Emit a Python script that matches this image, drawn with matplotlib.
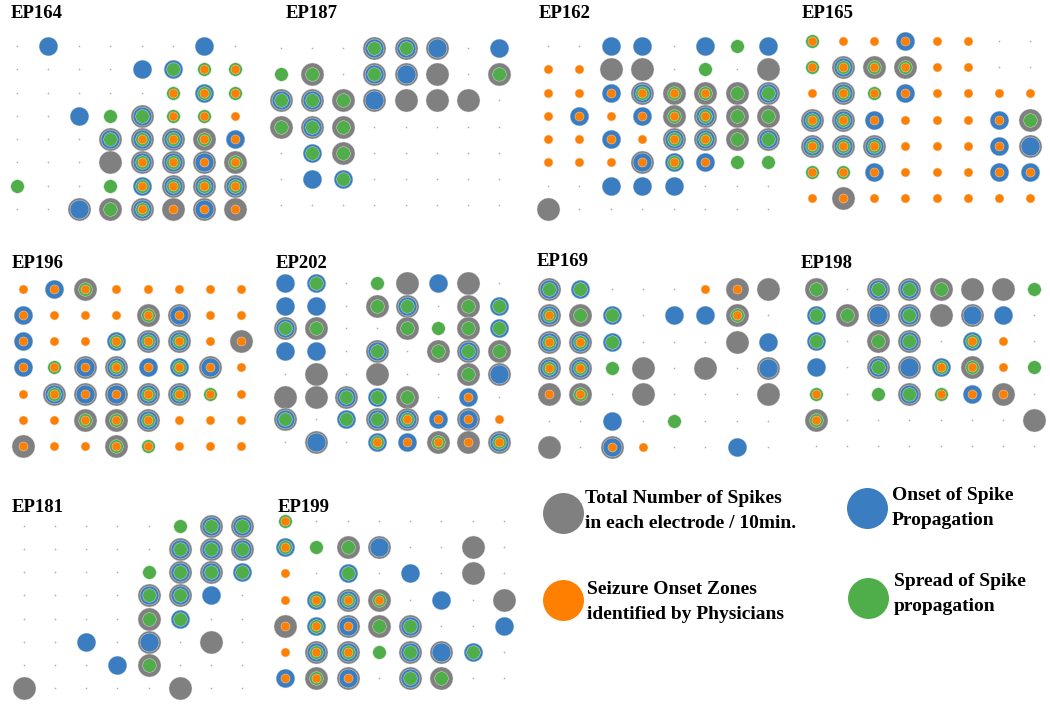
import matplotlib.pyplot as plt

W, H = 1050, 705

# electrode maps, one string per row, one token per electrode:
# g = total spikes, b = onset of spike propagation,
# s = spread of spike propagation, o = seizure onset zone, . = nothing
EP164 = [
    ". b . . . . b .",
    ". . . . b bs so so",
    ". . . . . so bso so",
    ". . b s gbs so so o",
    ". . . gbs gbso gbso gso bo",
    ". . . g gbso gbso gbo gso",
    "s . . s bso gbso gbso gbso",
    ". . gb gs gbso go gbo go",
]
EP187 = [
    ". . . gbs gbs gb . b",
    "s gs . gbs gb g . gs",
    "gbs gbs gs gb g g g .",
    "gs gbs gs . . . . .",
    ". bs gs . . . . .",
    ". b bs . . . . .",
    ". . . . . . . .",
]
EP162 = [
    ". . b b . b s b",
    "o o g g . s . g",
    "o o bo gbso gso gso gs gbs",
    "o bo o bo gso gbso gs gs",
    "o o bo o gbso gbso gs gbs",
    "o o o gbo bso bo s s",
    ". . b b b . . .",
    "g . . . . . . .",
]
EP165 = [
    "so o o bo o o . .",
    "so gbso gso gso o o . .",
    "o gbso so bo o o o o",
    "gbso gbso bo o o o bo gs",
    "gbso gbso gbso o o o bo gb",
    "so so bo o o o bo bo",
    "o go o o o o o o",
]
EP196 = [
    "o bo gso o o o o o",
    "bo o o o gso gbo o o",
    "bo o o bso gbso gbso o go",
    "bo so gbo gbso bo bso gbo o",
    "o gbso gbo gbo gbso gbso so o",
    "o o gso gso gbso o o o",
    "go o o gso so o o o",
]
EP202 = [
    "b bs . s g b g .",
    "b b . gs gbs . gs bs",
    "gbs gs . . gs s gs bs",
    "b b . gbs . gs gbs gs",
    ". g . g . . gs gb",
    "g g gbs bs gs . bo .",
    "gbs . bs gbs gbso bo gbo o",
    ". gb . bso bo gso go gbso",
]
EP169 = [
    "gbs bs . . . o go g",
    "gbso gs bs . b b gso .",
    "gbso gbso bs . . . g b",
    "gbso gbso s g . g . gb",
    "go gso . g . . . g",
    ". . b . s . . .",
    "g . gbo o . . b .",
]
EP198 = [
    "gs . gbs gbs gs g g s",
    "bs gs gb gbs g gb b .",
    "bs . gs gbs . bso o .",
    "b . gbs gb bso gso o s",
    "so . s gbs so bo go .",
    "gso . . . . . . g",
    ". . . . . . . .",
]
EP181 = [
    ". . . . . s gbs gbs",
    ". . . . . gbs gbs gbs",
    ". . . . s gbs gbs bs",
    ". . . . gbs gbs b .",
    ". . . . gs bs . .",
    ". . b . gb . g .",
    ". . . b gs . . .",
    "g . . . . g . .",
]
EP199 = [
    "so . . . . . . .",
    "bso s gs gb . . g .",
    "o . bs . b . g .",
    "o bso gbso gso . b . g",
    "go bso gbo gs gbs . . b",
    "o gbso gbso s gbs gb bs .",
    "bo gso gbo . gbs gs . .",
]

names = ["EP164", "EP187", "EP162", "EP165", "EP196",
         "EP202", "EP169", "EP198", "EP181", "EP199"]
grids = [EP164, EP187, EP162, EP165, EP196,
         EP202, EP169, EP198, EP181, EP199]

legend_labels = {
    "g": "Total Number of Spikes\nin each electrode / 10min.",
    "b": "Onset of Spike\nPropagation",
    "o": "Seizure Onset Zones\nidentified by Physicians",
    "s": "Spread of Spike\npropagation",
}

COLORS = {"g": "#808080", "b": "#3a7dc0", "s": "#4fae4a", "o": "#ff8000"}
SIZES = {"g": 275, "b": 185, "s": 95, "o": 42}

# pixel layout: first/last column centre, first/last row centre, title pos
layout = [
    (17, 235, 46, 209, 11, 14),
    (281, 499, 48, 205, 286, 13),
    (548, 768, 46, 209, 539, 14),
    (812, 1030, 41, 198, 802, 13),
    (23, 241, 289, 446, 12, 264),
    (285, 499, 283, 442, 276, 263),
    (549, 768, 289, 447, 537, 262),
    (816, 1034, 289, 446, 801, 263),
    (24, 242, 526, 688, 12, 508),
    (285, 504, 521, 678, 278, 507),
]

title_font = dict(family="Liberation Serif", weight="bold", size=13.5)

fig = plt.figure(figsize=(W / 100, H / 100), dpi=100)

for name, grid, (x0, x1, y0, y1, tx, ty) in zip(names, grids, layout):
    cells = [row.split() for row in grid]
    nr, nc = len(cells), len(cells[0])
    dx = (x1 - x0) / (nc - 1)
    dy = (y1 - y0) / (nr - 1)
    left = (x0 - dx / 2) / W
    bottom = 1 - (y1 + dy / 2) / H
    ax = fig.add_axes([left, bottom, dx * nc / W, dy * nr / H])
    ax.set_xlim(-0.5, nc - 0.5)
    ax.set_ylim(nr - 0.5, -0.5)
    ax.axis("off")

    ex, ey = [], []
    for r, row in enumerate(cells):
        for c, cell in enumerate(row):
            if cell == ".":
                ex.append(c)
                ey.append(r)
    ax.scatter(ex, ey, s=1.5, c="#b0b0b0", linewidths=0, zorder=1)

    for z, layer in enumerate("gbso"):
        xs, ys = [], []
        for r, row in enumerate(cells):
            for c, cell in enumerate(row):
                if layer in cell:
                    xs.append(c)
                    ys.append(r)
        ax.scatter(xs, ys, s=SIZES[layer], c=COLORS[layer],
                   edgecolors="#e4e4e4", linewidths=0.3, zorder=2 + z)

    fig.text(tx / W, 1 - ty / H, name, ha="left", va="center", **title_font)

# legend
lax = fig.add_axes([0, 0, 1, 1])
lax.set_xlim(0, W)
lax.set_ylim(H, 0)
lax.axis("off")
leg_pos = {"g": (563, 513, 585, 511), "b": (867, 508, 892, 508),
           "o": (563, 600, 587, 602), "s": (868, 598, 894, 594)}
for key, (cx, cy, lx, ly) in leg_pos.items():
    lax.scatter([cx], [cy], s=870, c=COLORS[key], linewidths=0)
    lax.text(lx, ly, legend_labels[key], ha="left", va="center",
             family="Liberation Serif", weight="bold", size=14,
             linespacing=1.55)

fig.savefig("out.png", dpi=100)
